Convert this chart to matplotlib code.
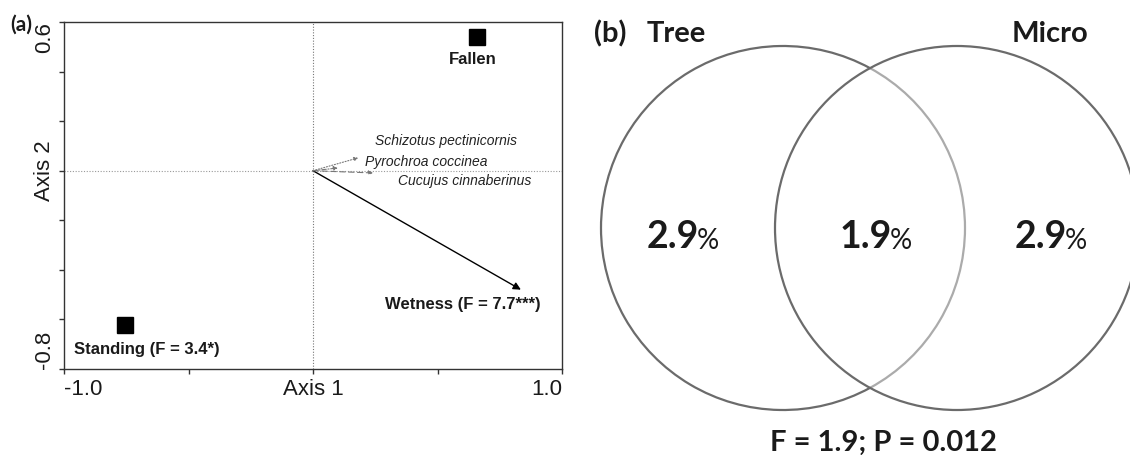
import numpy as np
import matplotlib
matplotlib.use("Agg")
import matplotlib.pyplot as plt
from matplotlib.patches import Arc, Circle

# -----------------------------------
# DATA
# -----------------------------------

# (a) ordination
site_names = ["Fallen", "Standing (F = 3.4*)"]
site_x = [0.659, -0.755]
site_y = [0.54, -0.622]

env_name = "Wetness (F = 7.7***)"
env_x = 0.835
env_y = -0.48

species_names = ["Schizotus pectinicornis", "Pyrochroa coccinea", "Cucujus cinnaberinus"]
species_x = [0.182, 0.10, 0.241]
species_y = [0.052, 0.011, -0.009]
species_styles = [(0, (1, 1.5)), (0, (4, 1.5, 1, 1.5)), (0, (5, 3))]

x_ticks = [-1.0, -0.5, 0.0, 0.5, 1.0]
x_ticklabels = ["-1.0", "", "Axis 1", "", "1.0"]
y_ticks = [-0.8, -0.6, -0.4, -0.2, 0.0, 0.2, 0.4, 0.6]
y_ticklabels = ["-0.8", "", "", "", "Axis 2", "", "", "0.6"]

# (b) variance partitioning
venn_sets = ["Tree", "Micro"]
venn_values = [2.9, 1.9, 2.9]   # tree only, shared, micro only
venn_stat = "F = 1.9; P = 0.012"

# -----------------------------------
# FIGURE
# -----------------------------------

W, H = 1130, 455
fig = plt.figure(figsize=(W / 100, H / 100), dpi=100)

ARIAL = "Liberation Sans"
CALIBRI = "Lato"
INK = "#1a1a1a"

# -----------------------------------
# PANEL (a)
# -----------------------------------

ax = fig.add_axes([64 / W, 1 - 369 / H, 498 / W, 347 / H])
ax.set_xlim(-1.0, 1.0)
ax.set_ylim(-0.8, 0.6)

for s in ax.spines.values():
    s.set_linewidth(1.0)
    s.set_color("#333333")

ax.axvline(0, color="#777777", lw=0.8, ls=(0, (1, 1.5)), zorder=1)
ax.axhline(0, color="#999999", lw=0.8, ls=(0, (1, 1.5)), zorder=1)

ax.set_xticks(x_ticks)
ax.set_xticklabels(x_ticklabels, fontsize=16, family=ARIAL, color=INK)
ax.set_yticks(y_ticks)
ax.set_yticklabels(y_ticklabels, fontsize=16, family=ARIAL, color=INK,
                   rotation=90, va="center")
ax.tick_params(axis="both", direction="out", length=3.5, width=1.0,
               color="#333333")
ax.tick_params(axis="x", pad=4)
ax.tick_params(axis="y", pad=3)

xl = ax.get_xticklabels()
xl[0].set_ha("left")
xl[-1].set_ha("right")
yl = ax.get_yticklabels()
yl[0].set_va("bottom")
yl[-1].set_va("top")

# sites
ax.plot(site_x, site_y, ls="none", marker="s", ms=12, color="black",
        zorder=4, clip_on=False)
ax.text(site_x[0] - 0.016, site_y[0] - 0.09, site_names[0], ha="center",
        va="center", fontsize=12, fontweight="bold", family=ARIAL, color=INK)
ax.text(-0.96, site_y[1] - 0.098, site_names[1], ha="left", va="center",
        fontsize=12, fontweight="bold", family=ARIAL, color=INK)

# wetness vector
ax.annotate("", xy=(env_x, env_y), xytext=(0, 0),
            arrowprops=dict(arrowstyle="-|>", color="black", lw=1.0,
                            mutation_scale=11, shrinkA=0, shrinkB=0),
            zorder=3)
ax.text(0.29, env_y - 0.058, env_name, ha="left", va="center",
        fontsize=12, fontweight="bold", family=ARIAL, color=INK)

# species vectors
for sx, sy, st in zip(species_x, species_y, species_styles):
    ax.annotate("", xy=(sx, sy), xytext=(0, 0),
                arrowprops=dict(arrowstyle="-|>", color="#777777", lw=0.8,
                                ls=st, mutation_scale=6, shrinkA=0, shrinkB=0),
                zorder=3)

species_text_pos = [(0.249, 0.12), (0.209, 0.035), (0.341, -0.042)]
for name, (tx, ty) in zip(species_names, species_text_pos):
    ax.text(tx, ty, name, ha="left", va="center", fontsize=10,
            style="italic", family=ARIAL, color="#222222")

fig.text(10 / W, 1 - 25 / H, "(a)", ha="left", va="center", fontsize=15,
         fontweight="bold", family=CALIBRI, color=INK)

# -----------------------------------
# PANEL (b)
# -----------------------------------

bx = fig.add_axes([570 / W, 0, 560 / W, 1])
bx.set_xlim(570, 1130)
bx.set_ylim(455, 0)
bx.axis("off")

R = 182
cx_tree, cx_micro, cy = 783, 957, 228
half = (cx_micro - cx_tree) / 2
ang = np.degrees(np.arctan2(np.sqrt(R ** 2 - half ** 2), half))

dark = "#6b6b6b"
light = "#ababab"
bx.add_patch(Arc((cx_tree, cy), 2 * R, 2 * R, theta1=ang, theta2=360 - ang,
                 color=dark, lw=1.6))
bx.add_patch(Arc((cx_tree, cy), 2 * R, 2 * R, theta1=-ang, theta2=ang,
                 color=light, lw=1.6))
bx.add_patch(Circle((cx_micro, cy), R, fill=False, ec=dark, lw=1.6,
                    clip_on=True))

bx.text(594, 42, "(b)", ha="left", va="baseline", fontsize=21,
        fontweight="bold", family=CALIBRI, color=INK)
bx.text(647, 42, venn_sets[0], ha="left", va="baseline", fontsize=21,
        fontweight="bold", family=CALIBRI, color=INK)
bx.text(1012, 42, venn_sets[1], ha="left", va="baseline", fontsize=21,
        fontweight="bold", family=CALIBRI, color=INK)

for x0, v in zip([647, 840, 1015], venn_values):
    t = bx.text(x0, 248, f"{v:.1f}", ha="left", va="baseline", fontsize=27,
                fontweight="bold", family=CALIBRI, color=INK)
    bx.annotate("%", xy=(1, 0), xycoords=t, xytext=(-1.5, 0),
                textcoords="offset points", ha="left", va="bottom",
                fontsize=20, family=CALIBRI, color=INK)

bx.text(884, 451, venn_stat, ha="center", va="baseline", fontsize=21,
        fontweight="bold", family=CALIBRI, color=INK)

fig.savefig("out.png", dpi=100)
plt.close(fig)
